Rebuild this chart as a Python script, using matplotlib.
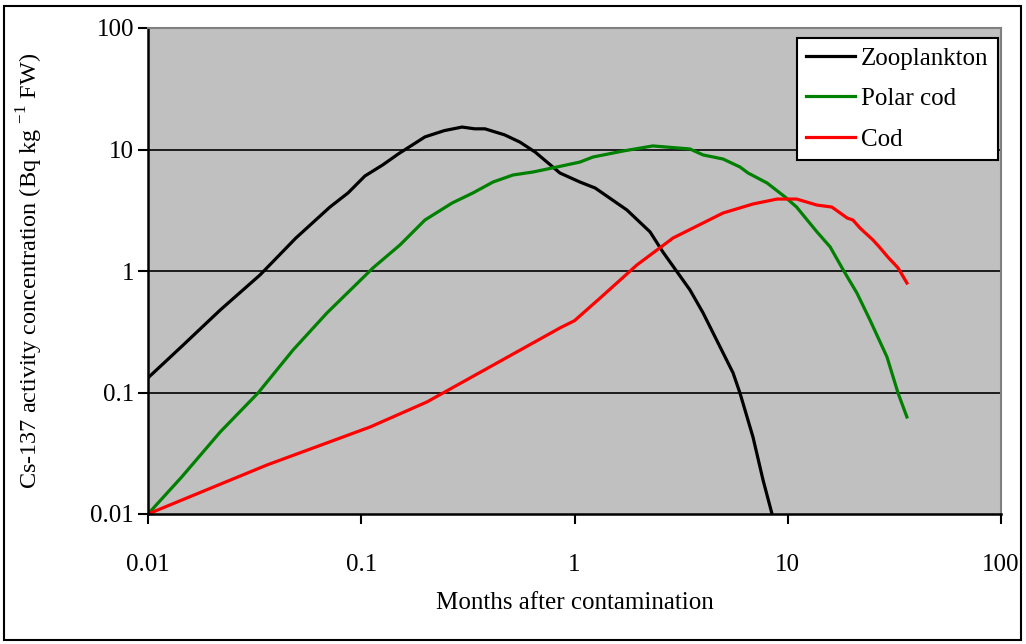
import matplotlib
matplotlib.use("Agg")
import matplotlib.pyplot as plt
from matplotlib.patches import Rectangle

# months after contamination / Cs-137 concentration (Bq/kg FW)
zoo_t = [0.01, 0.0143, 0.0218, 0.0335, 0.0494, 0.0713, 0.0867, 0.104, 0.126, 0.149,
         0.199, 0.245, 0.297, 0.34, 0.38, 0.47, 0.555, 0.655, 0.855, 1.06, 1.25,
         1.76, 2.26, 2.6, 3.48, 4.01, 5.54, 5.97, 6.87, 7.66, 8.44]
zoo_c = [0.132, 0.237, 0.477, 0.927, 1.87, 3.36, 4.39, 6.05, 7.46, 9.18,
         12.7, 14.3, 15.3, 14.8, 14.8, 13.2, 11.5, 9.5, 6.4, 5.4, 4.82,
         3.18, 2.10, 1.43, 0.698, 0.451, 0.145, 0.099, 0.043, 0.019, 0.01]

polar_t = [0.01, 0.0144, 0.0218, 0.0328, 0.0479, 0.069, 0.1135, 0.152, 0.199, 0.267,
           0.334, 0.415, 0.515, 0.639, 0.828, 1.06, 1.22, 1.69, 2.33, 3.48, 4.01,
           4.97, 5.97, 6.51, 8.0, 9.71, 11.0, 13.7, 15.8, 18.2, 21.1, 24.3, 29.2,
           32.9, 36.2]
polar_c = [0.01, 0.0202, 0.0473, 0.099, 0.224, 0.451, 1.06, 1.64, 2.63, 3.63,
           4.39, 5.40, 6.17, 6.53, 7.18, 7.88, 8.67, 9.72, 10.7, 10.1, 9.02,
           8.35, 7.18, 6.41, 5.30, 4.07, 3.36, 2.10, 1.58, 1.02, 0.659, 0.395, 0.196,
           0.099, 0.0629]

cod_t = [0.01, 0.0361, 0.110, 0.203, 0.855, 1.0, 1.32, 1.96, 2.90, 4.97, 6.87,
         8.91, 11.0, 13.7, 16.1, 19.0, 20.2, 21.8, 25.1, 27.1, 29.5, 32.9, 36.2]
cod_c = [0.01, 0.0253, 0.052, 0.0835, 0.340, 0.39, 0.600, 1.12, 1.87, 3.0, 3.56,
         3.91, 3.91, 3.49, 3.36, 2.73, 2.63, 2.26, 1.80, 1.55, 1.30, 1.06, 0.797]

x_ticks = [0.01, 0.1, 1, 10, 100]
x_labels = ["0.01", "0.1", "1", "10", "100"]
y_ticks = [0.01, 0.1, 1, 10, 100]
y_labels = ["0.01", "0.1", "1", "10", "100"]

plt.rcParams["font.family"] = ["Liberation Serif", "DejaVu Serif"]
plt.rcParams["mathtext.fontset"] = "custom"
plt.rcParams["mathtext.rm"] = "Liberation Serif"

FS = 18

fig = plt.figure(figsize=(10.26, 6.44), dpi=100)
ax = fig.add_axes([148 / 1026, 1 - 514 / 644, (1001 - 148) / 1026, (514 - 28) / 644])
ax.set_facecolor("#C0C0C0")

ax.plot(zoo_t, zoo_c, color="black", lw=2.3, label="Zooplankton")
ax.plot(polar_t, polar_c, color="#008000", lw=2.3, label="Polar cod")
ax.plot(cod_t, cod_c, color="#FF0000", lw=2.3, label="Cod")

ax.set_xscale("log")
ax.set_yscale("log")
ax.set_xlim(0.01, 100)
ax.set_ylim(0.01, 100)
ax.set_xticks(x_ticks)
ax.set_xticklabels(x_labels)
ax.set_yticks(y_ticks)
ax.set_yticklabels(y_labels)
ax.minorticks_off()
ax.tick_params(axis="x", direction="out", length=7, width=1.5, pad=22, labelsize=FS)
ax.tick_params(axis="y", direction="out", length=7, width=1.5, pad=3, labelsize=FS)

for v in y_ticks[1:-1]:
    ax.axhline(v, color="black", lw=1.2, zorder=1)

ax.spines["left"].set_color("black")
ax.spines["bottom"].set_color("black")
ax.spines["left"].set_linewidth(1.8)
ax.spines["bottom"].set_linewidth(1.8)
ax.spines["top"].set_color("#808080")
ax.spines["right"].set_color("#808080")
ax.spines["top"].set_linewidth(1.5)
ax.spines["right"].set_linewidth(1.5)

ax.set_xlabel("Months after contamination", fontsize=FS)
ax.set_ylabel(r"Cs-137 activity concentration (Bq kg $^{-1}$ FW)", fontsize=17.5)
ax.xaxis.set_label_coords(0.5, (514 - 603) / 486, transform=ax.transAxes)
ax.yaxis.set_label_coords((30 - 148) / 853, 0.5, transform=ax.transAxes)
ax.xaxis.label.set_va("center")
ax.yaxis.label.set_va("center")

leg = ax.legend(loc="upper right", bbox_to_anchor=(0.9965, 0.98), fontsize=FS,
                frameon=True, fancybox=False, framealpha=1, edgecolor="black",
                handlelength=1.95, borderpad=0.38, labelspacing=0.72,
                handletextpad=0.25, borderaxespad=0)
leg.get_frame().set_linewidth(1.5)

# outer frame around the whole chart
fig.patches.append(Rectangle((4 / 1026, 4 / 644), 1017 / 1026, 634 / 644,
                             transform=fig.transFigure, fill=False,
                             edgecolor="black", lw=1.5))

fig.savefig("out.png", dpi=100)
